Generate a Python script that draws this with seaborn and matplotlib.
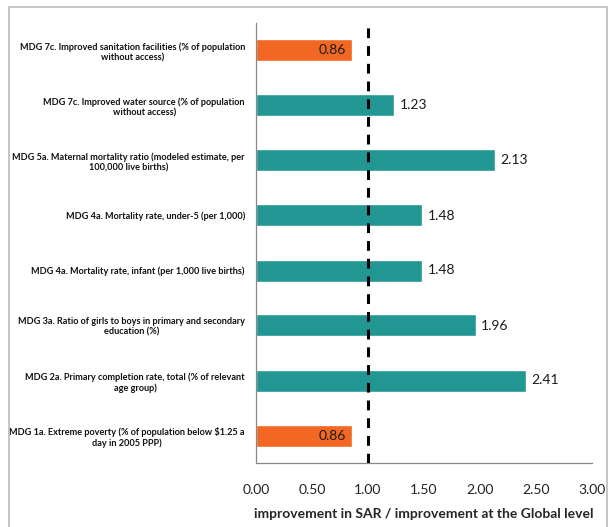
import matplotlib
matplotlib.use("Agg")
import matplotlib.pyplot as plt
import seaborn as sns
import numpy as np
from matplotlib.patches import Rectangle

categories = [
    "MDG 7c. Improved sanitation facilities (% of population\nwithout access)",
    "MDG 7c. Improved water source (% of population\nwithout access)",
    "MDG 5a. Maternal mortality ratio (modeled estimate, per\n100,000 live births)",
    "MDG 4a. Mortality rate, under-5 (per 1,000)",
    "MDG 4a. Mortality rate, infant (per 1,000 live births)",
    "MDG 3a. Ratio of girls to boys in primary and secondary\neducation (%)",
    "MDG 2a. Primary completion rate, total (% of relevant\nage group)",
    "MDG 1a. Extreme poverty (% of population below \\$1.25 a\nday in 2005 PPP)",
]
values = [0.86, 1.23, 2.13, 1.48, 1.48, 1.96, 2.41, 0.86]
value_labels = ["0.86", "1.23", "2.13", "1.48", "1.48", "1.96", "2.41", "0.86"]
bar_colors = ["#F26722", "#219693", "#219693", "#219693", "#219693", "#219693", "#219693", "#F26722"]
x_ticks = [0.0, 0.5, 1.0, 1.5, 2.0, 2.5, 3.0]
x_tick_labels = ["0.00", "0.50", "1.00", "1.50", "2.00", "2.50", "3.00"]
reference = 1.0
xlabel = "improvement in SAR / improvement at the Global level"

sns.set_style("white")
plt.rcParams["font.family"] = ["Lato", "DejaVu Sans"]
FONT = ["Lato", "DejaVu Sans"]

fig = plt.figure(figsize=(6.14, 5.27), dpi=100)
ax = fig.add_axes([256 / 614, 1 - 463 / 527, 336 / 614, 440 / 527])

sns.barplot(x=values, y=categories, hue=categories, palette=bar_colors,
            legend=False, width=0.4, orient="h", ax=ax, saturation=1)

ax.set_xlim(0, 3)
ax.set_ylim(len(categories) - 0.5, -0.5)
ax.axvline(reference, color="black", lw=2.2, ls=(0, (3.2, 2.6)), zorder=5)

for i, (v, lab, c) in enumerate(zip(values, value_labels, bar_colors)):
    if v < reference:
        ax.text(v - 0.06, i, lab, ha="right", va="center", fontsize=10, color="#1a1a1a", family=FONT)
    else:
        ax.text(v + 0.05, i, lab, ha="left", va="center", fontsize=10, color="#1a1a1a", family=FONT)

ax.set_yticks(range(len(categories)))
ax.set_yticklabels(categories, fontsize=6.6, fontweight="bold", multialignment="center",
                   family=FONT, color="#111111")
ax.tick_params(axis="y", which="major", length=0, pad=8)
ax.set_yticks(np.arange(-0.5, len(categories), 1.0), minor=True)
ax.tick_params(axis="y", which="minor", length=4, color="#888888", width=0.8, direction="out")

ax.set_xticks(x_ticks)
ax.set_xticklabels(x_tick_labels, fontsize=10, family=FONT, color="#222222")
ax.tick_params(axis="x", length=4, color="#888888", width=0.8, direction="out", pad=11)
ax.set_xlabel(xlabel, fontsize=10, fontweight="bold", labelpad=9, family=FONT)
ax.set_ylabel("")

for s in ["top", "right"]:
    ax.spines[s].set_visible(False)
for s in ["left", "bottom"]:
    ax.spines[s].set_color("#888888")
    ax.spines[s].set_linewidth(0.9)

fig.patches.append(Rectangle((9 / 614, -0.02), 598 / 614, 1.02 - 7 / 527,
                             transform=fig.transFigure, fill=False,
                             edgecolor="#BBBBBB", lw=1.2))

fig.savefig("out.png", dpi=100)
